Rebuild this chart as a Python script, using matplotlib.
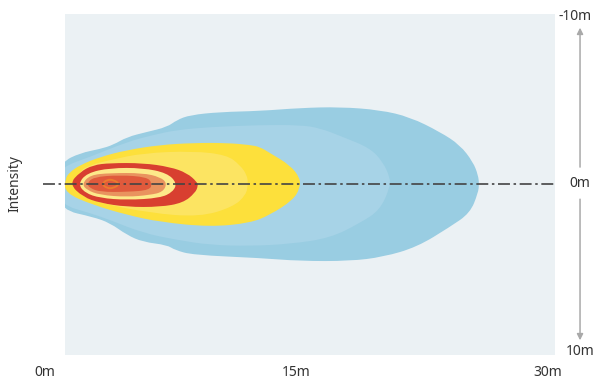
import matplotlib
matplotlib.use("Agg")
import matplotlib.pyplot as plt
from matplotlib.patches import PathPatch
from matplotlib.path import Path

plt.rcParams['font.family'] = ['Noto Sans', 'DejaVu Sans']
plt.rcParams['lines.scale_dashes'] = False

# Iso-intensity zones (x = distance m, y = lateral m), outer to inner
zone_outer_blue = [(1.0,-1.30),(2.09,-1.83),(3.28,-2.07),(4.06,-2.31),(4.89,-2.78),(6.08,-3.08),(7.28,-3.37),
    (7.87,-3.79),(8.65,-4.08),(10.44,-4.26),(12.82,-4.32),(15.21,-4.50),(17.59,-4.56),(19.98,-4.38),
    (21.77,-3.96),(23.56,-3.08),(24.75,-2.31),(25.53,-1.30),(25.83,-0.53),(25.89,0),(25.83,0.53),
    (25.35,1.72),(24.15,2.54),(22.19,3.73),(20.16,4.32),(18.19,4.56),(15.21,4.56),(12.82,4.38),
    (8.83,4.20),(7.75,3.91),(7.28,3.61),(5.84,3.43),(4.89,3.02),(3.88,2.31),(2.86,1.95),(1.0,1.54),(0.5,0)]
zone_light_blue = [(1.0,-1.01),(2.68,-1.60),(4.89,-2.49),(6.44,-2.90),(7.87,-3.20),(9.84,-3.37),(12.82,-3.49),
    (15.21,-3.49),(16.40,-3.31),(17.77,-2.78),(19.38,-2.13),(20.16,-1.30),(20.58,-0.36),(20.58,0.18),
    (19.98,1.54),(18.79,2.31),(17.00,3.20),(14.61,3.55),(12.23,3.67),(9.84,3.61),(7.87,3.31),
    (5.84,2.90),(3.88,2.13),(2.68,1.72),(1.0,1.24),(0.5,0)]
zone_yellow = [(1.19,-0.3),(1.49,-0.71),(2.09,-1.12),(3.28,-1.60),(4.89,-2.01),(6.86,-2.31),(8.83,-2.43),
    (10.85,-2.43),(12.23,-2.31),(12.82,-2.19),(13.42,-1.83),(14.61,-1.12),(15.21,-0.36),(15.21,0.24),
    (14.79,0.95),(13.42,1.83),(12.23,2.31),(9.84,2.54),(6.86,2.25),(4.89,1.83),(2.86,1.24),(1.19,0.53)]
zone_light_yellow = [(1.97,-0.71),(2.68,-1.12),(3.88,-1.42),(5.84,-1.83),(8.83,-1.95),(10.85,-1.72),
    (11.63,-1.12),(12.05,-0.53),(12.11,0),(11.99,0.65),(11.21,1.36),(9.24,1.95),(6.26,1.72),
    (3.28,1.12),(1.97,0.65)]
zone_red = [(1.45,0),(2.09,-0.71),(2.86,-1.12),(3.88,-1.24),(5.84,-1.24),(7.46,-1.01),(8.47,-0.65),
    (9.07,-0.12),(9.13,0.12),(8.95,0.53),(8.23,1.12),(6.86,1.36),(4.89,1.36),(3.28,1.12),(2.27,0.77)]
zone_pale_yellow = [(1.97,0),(2.50,-0.65),(3.88,-0.95),(5.84,-0.95),(7.28,-0.65),(7.87,-0.06),(7.63,0.47),
    (6.86,0.83),(4.89,0.95),(3.28,0.83),(2.39,0.53)]
zone_salmon = [(2.21,0),(2.68,-0.53),(3.88,-0.65),(5.84,-0.65),(6.86,-0.41),(7.28,-0.06),(7.04,0.47),
    (6.26,0.65),(4.89,0.77),(3.28,0.65),(2.50,0.36)]
zone_core = [(2.50,0),(2.86,-0.41),(4.47,-0.53),(6.08,-0.41),(6.38,-0.06),(6.26,0.36),(4.89,0.47),
    (3.28,0.47),(2.68,0.24)]
zone_peak = [(3.40,0),(3.70,-0.26),(4.10,-0.24),(4.45,0),(4.10,0.24),(3.70,0.26)]

zones = [zone_outer_blue, zone_light_blue, zone_yellow, zone_light_yellow, zone_red,
         zone_pale_yellow, zone_salmon, zone_core]
zone_colors = ['#99CDE2', '#A7D3E7', '#FDE03B', '#FCE462', '#D83F30', '#FDE98A', '#E9935F', '#E05A3C']

x_ticks = [0, 15, 30]
x_tick_labels = ['0m', '15m', '30m']
y_ticks = [-10, 0, 10]
y_tick_labels = ['-10m', '0m', '10m']


def smooth_path(pts):
    """Closed quadratic B-spline path using the outline points as control points."""
    n = len(pts)
    mid = lambda a, b: ((a[0] + b[0]) / 2, (a[1] + b[1]) / 2)
    verts = [mid(pts[-1], pts[0])]
    codes = [Path.MOVETO]
    for i in range(n):
        verts += [pts[i], mid(pts[i], pts[(i + 1) % n])]
        codes += [Path.CURVE3, Path.CURVE3]
    verts.append(verts[0]); codes.append(Path.CLOSEPOLY)
    return Path(verts, codes)


W, H = 593, 381
fig = plt.figure(figsize=(W/100, H/100), dpi=100)
ax = fig.add_axes([65/W, (H-355)/H, 490/W, 341/H])
ax.set_facecolor('#EBF1F4')
ax.set_xlim(1.193, 30.417)
ax.set_ylim(10.12, -10.06)
for s in ax.spines.values():
    s.set_visible(False)
ax.set_xticks([]); ax.set_yticks([])

for pts, c in zip(zones, zone_colors):
    ax.add_patch(PathPatch(smooth_path(pts), facecolor=c, edgecolor='none'))
ax.add_patch(PathPatch(smooth_path(zone_peak), facecolor='none', edgecolor='#EC7A2E', lw=1.4))

ax.plot([-0.1, 30.4], [0, 0], color='#444444', lw=1.2, clip_on=False,
        dashes=(8.6, 2.6, 1.8, 2.6))

txt = dict(fontsize=10, color='#333333')
for xv, lab in zip(x_ticks, x_tick_labels):
    ax.text(xv, 11.18, lab, ha='center', va='center', clip_on=False, **txt)
arrow_x = 31.91
for yv, lab in zip(y_ticks, y_tick_labels):
    if yv < 0:
        ax.text(32.62, yv * 0.99, lab, ha='right', va='center', clip_on=False, **txt)
    else:
        ax.text(arrow_x, yv * 0.99, lab, ha='center', va='center', clip_on=False, **txt)

ax.annotate('', xy=(arrow_x, -9.25), xytext=(arrow_x, -1.0), annotation_clip=False,
            arrowprops=dict(arrowstyle='-|>', color='#A9A9A9', lw=1.1, mutation_scale=9, shrinkA=0, shrinkB=0))
ax.annotate('', xy=(arrow_x, 9.25), xytext=(arrow_x, 0.9), annotation_clip=False,
            arrowprops=dict(arrowstyle='-|>', color='#A9A9A9', lw=1.1, mutation_scale=9, shrinkA=0, shrinkB=0))

fig.text(15/W, 1-184/H, 'Intensity', rotation=90, ha='center', va='center', **txt)

fig.savefig('out.png', dpi=100)
